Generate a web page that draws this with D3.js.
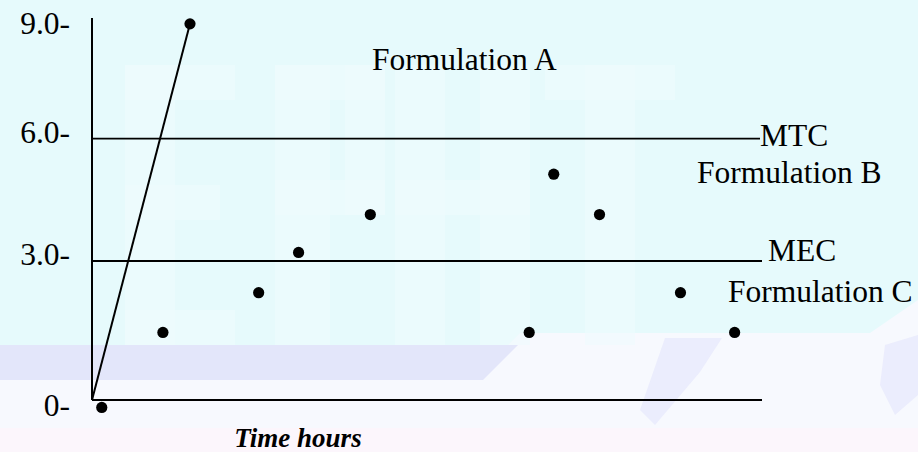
<!DOCTYPE html>
<html>
<head>
<meta charset="utf-8">
<script src="https://cdn.jsdelivr.net/npm/d3@7/dist/d3.min.js"></script>
<style>
  html, body { margin: 0; padding: 0; background: #ffffff; }
  svg { display: block; }
</style>
</head>
<body>
<svg id="chart" width="918" height="452"></svg>
<script>
// ---------------- DATA ----------------
// Time (hours) and plasma concentration of the plotted points
const timeHours     = [0.35, 2.54, 3.51, 5.97, 7.40, 9.97, 15.66, 16.54, 18.18, 21.08, 23.02];
const concentration = [0.09, 1.58, 9.17, 2.37, 3.21, 4.14, 1.58, 5.13, 4.14, 2.37, 1.58];
// Formulation A rising line (time, concentration)
const lineATime  = [0, 3.51];
const lineAConc  = [0.24, 9.17];
// Y tick labels
const yTickValues = [0, 3, 6, 9];
const yTickLabels = ["0-", "3.0-", "6.0-", "9.0-"];
// Reference levels
const refNames  = ["MTC", "MEC"];
const refValues = [6, 3];
// Curve labels
const curveNames = ["Formulation A", "Formulation B", "Formulation C"];
const curveLabelTime = [10.03, 21.67, 22.78];
const curveLabelConc = [7.9, 4.91, 2.19];
const xAxisTitle = "Time hours";

// ---------------- LAYOUT ----------------
const W = 918, H = 452;
const plot = { left: 92, right: 762, top: 18, bottom: 400 };
const svg = d3.select("#chart");
const serif = "'Liberation Serif', 'Times New Roman', Times, serif";
const fs = 31.5;

// ---------------- BACKGROUND ----------------
const bg = svg.append("g");
bg.append("rect").attr("x", 0).attr("y", 0).attr("width", W).attr("height", H).attr("fill", "#f7f9fe");
bg.append("rect").attr("x", 0).attr("y", 428).attr("width", W).attr("height", H - 428).attr("fill", "#fcf6fc");
// cyan upper region
bg.append("path")
  .attr("d", "M0,0 H918 V300 L870,333 H520 L508,345 H0 Z")
  .attr("fill", "#e6fafc");
// lavender band
bg.append("path")
  .attr("d", "M0,345 H518 L483,380 H0 Z")
  .attr("fill", "#e3e6fa");
// faint lighter watermark letters
const wm = bg.append("g").attr("fill", "#eefcfd");
[
  [125, 65, 50, 280], [125, 65, 110, 35], [125, 185, 95, 35], [125, 310, 110, 35],
  [275, 65, 55, 280], [275, 65, 110, 35], [345, 65, 40, 150], [275, 180, 110, 35],
  [395, 65, 50, 280], [480, 65, 50, 280], [395, 180, 135, 35],
  [545, 65, 130, 35], [585, 65, 50, 280]
].forEach(r => wm.append("rect").attr("x", r[0]).attr("y", r[1]).attr("width", r[2]).attr("height", r[3]).attr("opacity", 0.55));
// lavender rotated watermark on right
const wm2 = bg.append("g").attr("fill", "#e2e5fb").attr("opacity", 0.6);
wm2.append("path").attr("d", "M665,338 L722,338 L700,372 L655,425 L640,410 Z");
wm2.append("path").attr("d", "M885,345 L918,335 L918,395 L895,415 L880,385 Z");

// ---------------- SCALES ----------------
const x = d3.scaleLinear().domain([0, 24]).range([plot.left, plot.right]);
const y = d3.scaleLinear().domain([0, 3, 6, 9]).range([412, 261, 138.7, 30]);

const g = svg.append("g");

// Axes (frame lines)
g.append("line")
  .attr("x1", plot.left).attr("x2", plot.left)
  .attr("y1", plot.top).attr("y2", plot.bottom)
  .attr("stroke", "#000").attr("stroke-width", 2);
g.append("line")
  .attr("x1", plot.left).attr("x2", plot.right)
  .attr("y1", plot.bottom).attr("y2", plot.bottom)
  .attr("stroke", "#000").attr("stroke-width", 2.2);

// Y tick labels
g.selectAll("text.ytick")
  .data(yTickValues)
  .join("text")
  .attr("class", "ytick")
  .attr("x", 70)
  .attr("y", d => y(d) + 4)
  .attr("text-anchor", "end")
  .attr("font-family", serif)
  .attr("font-size", fs)
  .attr("fill", "#000")
  .text((d, i) => yTickLabels[i]);

// Reference lines
const refEnd = [plot.right - 2, plot.right];
g.selectAll("line.ref")
  .data(refValues)
  .join("line")
  .attr("class", "ref")
  .attr("x1", plot.left)
  .attr("x2", (d, i) => refEnd[i])
  .attr("y1", d => y(d)).attr("y2", d => y(d))
  .attr("stroke", "#000").attr("stroke-width", 1.8);

const refLabelDx = [0, 6];
const refLabelDy = [7, 0];
g.selectAll("text.ref")
  .data(refValues)
  .join("text")
  .attr("class", "ref")
  .attr("x", (d, i) => refEnd[i] + refLabelDx[i])
  .attr("y", (d, i) => y(d) + refLabelDy[i])
  .attr("font-family", serif)
  .attr("font-size", fs)
  .attr("fill", "#000")
  .text((d, i) => refNames[i]);

// Formulation A line
const lineData = lineATime.map((t, i) => ({ t, c: lineAConc[i] }));
g.append("path")
  .datum(lineData)
  .attr("d", d3.line().x(d => x(d.t)).y(d => y(d.c)))
  .attr("fill", "none")
  .attr("stroke", "#000")
  .attr("stroke-width", 2);

// Points
const pts = timeHours.map((t, i) => ({ t, c: concentration[i] }));
g.selectAll("circle.pt")
  .data(pts)
  .join("circle")
  .attr("class", "pt")
  .attr("cx", d => x(d.t))
  .attr("cy", d => y(d.c))
  .attr("r", 5.6)
  .attr("fill", "#000");

// Curve labels
g.selectAll("text.curve")
  .data(curveNames)
  .join("text")
  .attr("class", "curve")
  .attr("x", (d, i) => x(curveLabelTime[i]))
  .attr("y", (d, i) => y(curveLabelConc[i]))
  .attr("font-family", serif)
  .attr("font-size", fs)
  .attr("fill", "#000")
  .text(d => d);

// X axis title
g.append("text")
  .attr("x", 298)
  .attr("y", 447)
  .attr("text-anchor", "middle")
  .attr("font-family", serif)
  .attr("font-size", 27)
  .attr("font-weight", "bold")
  .attr("font-style", "italic")
  .attr("fill", "#000")
  .text(xAxisTitle);
</script>
</body>
</html>
